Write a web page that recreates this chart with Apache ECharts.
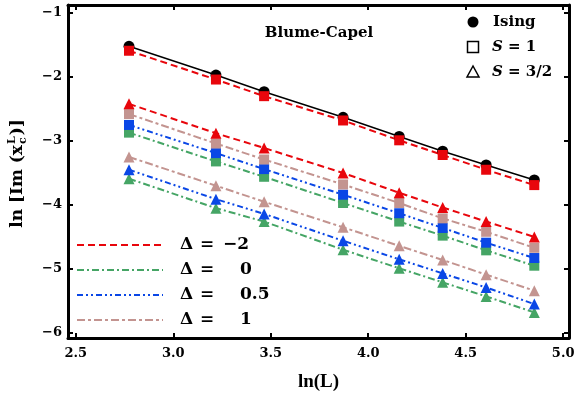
<!DOCTYPE html>
<html>
<head>
<meta charset="utf-8">
<script src="https://cdn.jsdelivr.net/npm/echarts@6/dist/echarts.min.js"></script>
<style>
html, body { margin: 0; padding: 0; background: #fff; }
#chart1 { width: 581px; height: 393px; }
</style>
</head>
<body>
<div id="chart1"></div>
<script>
// ln(L) for L = 16, 25, 32, 48, 64, 80, 100, 128
var lnL = [2.773, 3.219, 3.466, 3.871, 4.159, 4.382, 4.605, 4.852];
var xTicks = [2.5, 3.0, 3.5, 4.0, 4.5, 5.0];
var yTicks = [-6, -5, -4, -3, -2, -1];

var ising = [-1.52, -1.97, -2.23, -2.63, -2.93, -3.16, -3.375, -3.61];

// S = 1 (squares)
var s1_m2 = [-1.59, -2.04, -2.30, -2.68, -2.99, -3.22, -3.45, -3.69];
var s1_0 = [-2.87, -3.32, -3.56, -3.97, -4.26, -4.48, -4.71, -4.95];
var s1_05 = [-2.75, -3.19, -3.44, -3.84, -4.13, -4.36, -4.59, -4.83];
var s1_1 = [-2.58, -3.04, -3.29, -3.68, -3.97, -4.21, -4.42, -4.67];

// S = 3/2 (triangles)
var s32_m2 = [-2.42, -2.88, -3.11, -3.50, -3.81, -4.04, -4.26, -4.50];
var s32_0 = [-3.59, -4.05, -4.26, -4.70, -4.99, -5.21, -5.43, -5.68];
var s32_05 = [-3.45, -3.91, -4.14, -4.56, -4.85, -5.07, -5.29, -5.55];
var s32_1 = [-3.25, -3.70, -3.95, -4.35, -4.64, -4.86, -5.09, -5.34];

var deltaLabels = ['\u22122', '0', '0.5', '1'];

var RED = '#e8060c', GREEN = '#45a565', BLUE = '#0a47e6', BROWN = '#c39490';
var dashRed = [7, 4], dashGreen = [7, 3, 2, 3], dashBlue = [6, 3, 2, 3, 2, 3], dashBrown = [8, 3, 3, 3];

var BOLD = '"DejaVu Serif", serif';

function pts(ys) {
    return lnL.map(function (x, i) { return [x, ys[i]]; });
}

function fitLine(ys, color, dash, width) {
    return {
        type: 'line', data: pts(ys), showSymbol: false, z: 2, silent: true,
        lineStyle: { color: color, width: width || 2, type: dash }
    };
}

function marks(ys, color, symbol, size, z) {
    return {
        type: 'scatter', data: pts(ys), symbol: symbol, symbolSize: size, z: z,
        itemStyle: { color: color, opacity: 1 }
    };
}

function minus(v) {
    return v < 0 ? '\u2212' + Math.abs(v) : String(v);
}

var chart = echarts.init(document.getElementById('chart1'));

var axisLine = { lineStyle: { color: '#000', width: 3 } };
var tickIn = { inside: true, length: 5, lineStyle: { color: '#000', width: 2 } };

// y axis title with stacked sup/sub
var ctx = document.createElement('canvas').getContext('2d');
var fBig = 'bold 17px ' + BOLD, fSmall = 'bold 11px ' + BOLD;
function tw(t, f) { ctx.font = f; return ctx.measureText(t).width; }
var p1 = 'ln [Im (x', p3 = ')]';
var w1 = tw(p1, fBig), w2 = Math.max(tw('L', fSmall), tw('c', fSmall)), w3 = tw(p3, fBig);
var wTot = w1 + w2 + 1 + w3;
var x0 = -wTot / 2;

var yTitle = {
    type: 'group', x: 18, y: 174, rotation: Math.PI / 2,
    children: [
        { type: 'text', x: x0, y: 0, style: { text: p1, font: fBig, fill: '#000', textVerticalAlign: 'middle' } },
        { type: 'text', x: x0 + w1 + 1, y: -6, style: { text: 'L', font: fSmall, fill: '#000', textVerticalAlign: 'middle' } },
        { type: 'text', x: x0 + w1 + 1, y: 5, style: { text: 'c', font: fSmall, fill: '#000', textVerticalAlign: 'middle' } },
        { type: 'text', x: x0 + w1 + w2 + 2, y: 0, style: { text: p3, font: fBig, fill: '#000', textVerticalAlign: 'middle' } }
    ]
};

var legendColors = [RED, GREEN, BLUE, BROWN];
var legendDash = [dashRed, dashGreen, dashBlue, dashBrown];
var valX = [223, 240, 240, 240];
var dGraphics = [];
legendColors.forEach(function (c, i) {
    var y = 245 + i * 25;
    dGraphics.push({ type: 'line', shape: { x1: 77, y1: y, x2: 163, y2: y },
        style: { stroke: c, lineWidth: 2, lineDash: legendDash[i] } });
    dGraphics.push({ type: 'text', x: 180, y: y, style: { text: '\u0394', font: 'bold 17px ' + BOLD, fill: '#000', textVerticalAlign: 'middle' } });
    dGraphics.push({ type: 'text', x: 200, y: y, style: { text: '=', font: 'bold 17px ' + BOLD, fill: '#000', textVerticalAlign: 'middle' } });
    dGraphics.push({ type: 'text', x: valX[i], y: y, style: { text: deltaLabels[i], font: 'bold 17px ' + BOLD, fill: '#000', textVerticalAlign: 'middle' } });
});

var sLegend = [
    { type: 'circle', shape: { cx: 473, cy: 22, r: 5.5 }, style: { fill: '#000' } },
    { type: 'text', x: 493, y: 22, style: { text: 'Ising', font: 'bold 15px ' + BOLD, fill: '#000', textVerticalAlign: 'middle' } },
    { type: 'rect', shape: { x: 467.5, y: 41.5, width: 11, height: 11 }, style: { fill: 'none', stroke: '#000', lineWidth: 1.5 } },
    { type: 'text', x: 492, y: 47, style: {
        text: '{i|S} = 1', font: 'bold 15px ' + BOLD, fill: '#000', textVerticalAlign: 'middle',
        rich: { i: { fontStyle: 'italic', fontWeight: 'bold', fontSize: 15, fontFamily: 'DejaVu Serif' } } } },
    { type: 'polygon', shape: { points: [[473, 66], [467, 77], [479, 77]] }, style: { fill: 'none', stroke: '#000', lineWidth: 1.5 } },
    { type: 'text', x: 492, y: 72, style: {
        text: '{i|S} = 3/2', font: 'bold 15px ' + BOLD, fill: '#000', textVerticalAlign: 'middle',
        rich: { i: { fontStyle: 'italic', fontWeight: 'bold', fontSize: 15, fontFamily: 'DejaVu Serif' } } } }
];

var option = {
    animation: false,
    backgroundColor: '#fff',
    grid: { left: 68, right: 12, top: 5, bottom: 55, outerBoundsMode: 'none' },
    xAxis: [{
        type: 'value', min: 2.46, max: 5.03, position: 'bottom',
        axisLine: axisLine,
        axisTick: Object.assign({ customValues: xTicks }, tickIn),
        axisLabel: { customValues: xTicks, margin: 9, color: '#000', fontFamily: BOLD, fontWeight: 'bold', fontSize: 13,
            formatter: function (v) { return v.toFixed(1); } },
        splitLine: { show: false },
        name: 'ln(L)', nameLocation: 'middle', nameGap: 35,
        nameTextStyle: { color: '#000', fontFamily: 'Liberation Serif', fontWeight: 'bold', fontSize: 19 }
    }, {
        type: 'value', min: 2.46, max: 5.03, position: 'top',
        axisLine: axisLine,
        axisTick: Object.assign({ customValues: xTicks }, tickIn),
        axisLabel: { show: false }, splitLine: { show: false }
    }],
    yAxis: [{
        type: 'value', min: -6.08, max: -0.875, position: 'left',
        axisLine: axisLine,
        axisTick: Object.assign({ customValues: yTicks }, tickIn),
        axisLabel: { customValues: yTicks, margin: 6, color: '#000', fontFamily: BOLD, fontWeight: 'bold', fontSize: 13,
            formatter: minus },
        splitLine: { show: false }
    }, {
        type: 'value', min: -6.08, max: -0.875, position: 'right',
        axisLine: axisLine,
        axisTick: Object.assign({ customValues: yTicks }, tickIn),
        axisLabel: { show: false }, splitLine: { show: false }
    }],
    graphic: [
        yTitle,
        { type: 'text', x: 319, y: 33, style: { text: 'Blume-Capel', font: 'bold 15px ' + BOLD, fill: '#000', textAlign: 'center', textVerticalAlign: 'middle' } }
    ].concat(sLegend, dGraphics),
    series: [
        fitLine(ising, '#000', 'solid', 1.5),
        fitLine(s1_m2, RED, dashRed),
        fitLine(s32_m2, RED, dashRed),
        fitLine(s1_1, BROWN, dashBrown),
        fitLine(s32_1, BROWN, dashBrown),
        fitLine(s1_05, BLUE, dashBlue),
        fitLine(s32_05, BLUE, dashBlue),
        fitLine(s1_0, GREEN, dashGreen),
        fitLine(s32_0, GREEN, dashGreen),
        marks(ising, '#000', 'circle', 11, 3),
        marks(s1_0, GREEN, 'rect', 10, 4),
        marks(s1_05, BLUE, 'rect', 10, 4),
        marks(s1_1, BROWN, 'rect', 10, 4),
        marks(s1_m2, RED, 'rect', 10, 4),
        marks(s32_0, GREEN, 'triangle', 11, 5),
        marks(s32_05, BLUE, 'triangle', 11, 5),
        marks(s32_1, BROWN, 'triangle', 11, 5),
        marks(s32_m2, RED, 'triangle', 11, 5)
    ]
};

chart.setOption(option, true);
</script>
</body>
</html>
